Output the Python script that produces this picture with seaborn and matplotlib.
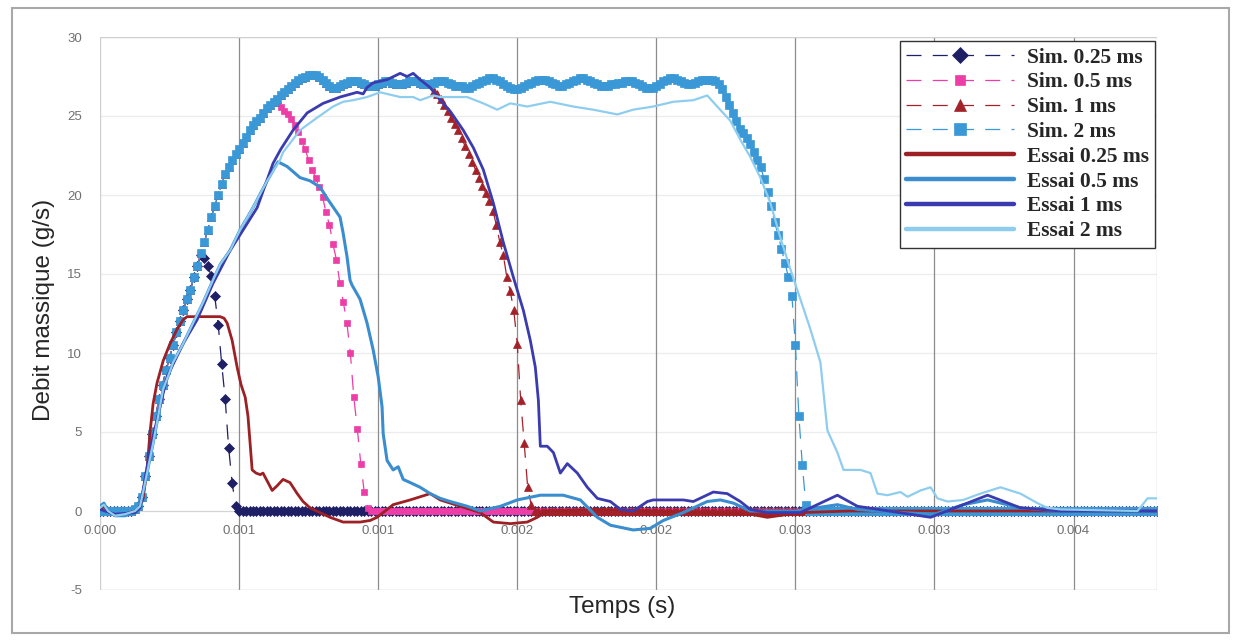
import numpy as np
import matplotlib
matplotlib.use("Agg")
import matplotlib.pyplot as plt
from matplotlib.patches import Rectangle
from matplotlib.font_manager import FontProperties
import seaborn as sns

# ---------------- data ----------------
# simulation: regular time step (ms), values in g/s
sim_step_ms = 0.0125
n_sim = 305
sim_rise = [0.0, 0.0, 0.0, 0.0, 0.0, 0.0, 0.0, 0.0, 0.0, 0.0,
            0.1, 0.3, 0.9, 2.2, 3.5, 4.9, 6.0, 7.1, 8.0, 8.9,
            9.7, 10.5, 11.3, 12.0, 12.7, 13.4, 14.0, 14.8, 15.5, 16.3,
            17.0, 17.8, 18.6, 19.3, 20.0, 20.7, 21.3, 21.8, 22.2, 22.6,
            22.9, 23.3, 23.7, 24.1, 24.4, 24.7, 24.9, 25.2, 25.5, 25.7,
            25.9, 26.1, 26.3, 26.5, 26.7, 26.9, 27.1, 27.3, 27.4, 27.5,
            27.6, 27.6, 27.6, 27.5, 27.3, 27.1, 26.9, 26.8, 26.8, 26.9,
            27.0, 27.1, 27.2, 27.2, 27.2, 27.1, 27.0, 26.9, 26.9, 26.9,
            27.0, 27.1, 27.2, 27.2, 27.1, 27.0, 27.0, 27.0, 27.1, 27.2,
            27.2, 27.2, 27.1, 27.0, 27.0, 27.0]
sim_2_tail = [27.1, 27.2, 27.2, 27.2,
              27.1, 27.0, 26.9, 26.9, 26.9, 26.8, 26.8, 26.9, 27.0, 27.1,
              27.2, 27.3, 27.4, 27.4, 27.3, 27.2, 27.0, 26.9, 26.8, 26.7,
              26.7, 26.8, 26.9, 27.0, 27.1, 27.2, 27.3, 27.3, 27.3, 27.2,
              27.1, 27.0, 26.9, 26.9, 27.0, 27.1, 27.2, 27.3, 27.4, 27.4,
              27.3, 27.2, 27.1, 27.0, 26.9, 26.9, 26.9, 27.0, 27.0, 27.1,
              27.1, 27.2, 27.2, 27.2, 27.1, 27.0, 26.9, 26.8, 26.8, 26.8,
              26.9, 27.0, 27.2, 27.3, 27.4, 27.4, 27.3, 27.2, 27.1, 27.0,
              27.0, 27.1, 27.2, 27.3, 27.3, 27.3, 27.3, 27.2, 27.0, 26.7,
              26.2, 25.7, 25.2, 24.7, 24.2, 23.9, 23.6, 23.2, 22.7, 22.2,
              21.8, 21.0, 20.2, 19.3, 18.3, 17.5, 16.6, 15.7, 14.8, 13.6,
              10.5, 6.0, 2.9, 0.4]
sim_025_drop = [16.2, 16.0, 15.5, 14.9, 13.6, 11.8, 9.3, 7.1, 4.0, 1.8, 0.3]
sim_05_drop = [25.8, 25.6, 25.3, 25.1, 24.8, 24.4, 24.0, 23.4, 22.9, 22.2,
               21.6, 21.1, 20.5, 19.9, 18.9, 18.1, 16.9, 15.9, 14.4, 13.2,
               11.9, 10.0, 7.2, 5.2, 3.0, 1.2, 0.2]
sim_1_drop = [26.6, 26.4, 26.1, 25.7, 25.3, 24.9, 24.5, 24.1, 23.6, 23.1,
              22.6, 22.1, 21.6, 21.1, 20.6, 20.1, 19.6, 19.0, 18.1, 17.0,
              16.2, 14.8, 13.9, 12.7, 10.6, 7.0, 4.3, 1.5, 0.4]

# experiments: time (ms), value (g/s)
essai_025_t = [0, 0.014, 0.029, 0.054, 0.09, 0.126, 0.137, 0.155, 0.169, 0.18,
               0.191, 0.205, 0.227, 0.252, 0.277, 0.299, 0.313, 0.36, 0.403, 0.432,
               0.446, 0.457, 0.475, 0.493, 0.507, 0.522, 0.532, 0.54, 0.547, 0.561,
               0.576, 0.586, 0.601, 0.619, 0.637, 0.658, 0.683, 0.709, 0.73, 0.755,
               0.791, 0.827, 0.874, 0.906, 0.935, 0.971, 0.996, 1.025, 1.054, 1.115,
               1.151, 1.187, 1.223, 1.259, 1.295, 1.367, 1.414, 1.475, 1.536, 1.572,
               1.608, 1.799, 1.978, 2.158, 2.338, 2.399, 2.518, 2.698, 3.0, 3.802]
essai_025_y = [0.1, 0.3, 0.0, -0.3, -0.2, 0.0, 0.1, 0.8, 2.6, 5.0,
               6.8, 8.1, 9.5, 10.6, 11.5, 12.1, 12.3, 12.3, 12.3, 12.3,
               12.2, 11.9, 10.8, 9.1, 8.0, 7.2, 6.0, 4.2, 2.6, 2.4,
               2.3, 2.4, 1.9, 1.3, 1.6, 2.0, 1.8, 1.1, 0.6, 0.2,
               -0.1, -0.4, -0.7, -0.7, -0.7, -0.6, -0.4, 0.0, 0.4, 0.7,
               0.9, 1.1, 0.7, 0.5, 0.3, -0.1, -0.7, -0.8, -0.7, -0.4,
               0.0, 0.1, 0.0, -0.1, -0.2, -0.4, -0.1, 0.0, 0.0, 0.0]

essai_05_t = [0, 0.014, 0.029, 0.054, 0.09, 0.126, 0.144, 0.162, 0.191, 0.227,
              0.263, 0.299, 0.335, 0.371, 0.406, 0.432, 0.468, 0.504, 0.55, 0.601,
              0.64, 0.673, 0.719, 0.755, 0.791, 0.82, 0.863, 0.874, 0.888, 0.899,
              0.906, 0.935, 0.96, 0.982, 1.0, 1.014, 1.018, 1.032, 1.054, 1.072,
              1.09, 1.115, 1.151, 1.187, 1.223, 1.259, 1.32, 1.367, 1.44, 1.5,
              1.583, 1.665, 1.727, 1.788, 1.835, 1.917, 1.978, 2.025, 2.097, 2.183,
              2.23, 2.277, 2.338, 2.5, 2.651, 2.723, 2.878, 3.0, 3.104, 3.191,
              3.309, 3.45, 3.802]
essai_05_y = [0.3, 0.5, 0.0, -0.3, -0.3, -0.1, 0.3, 1.8, 4.3, 7.7,
              9.4, 10.6, 11.9, 13.2, 14.6, 15.6, 16.5, 17.8, 19.2, 20.9,
              22.1, 21.8, 21.1, 20.9, 20.5, 19.7, 18.6, 17.6, 16.1, 14.6,
              14.3, 13.4, 11.9, 10.2, 8.5, 6.6, 4.9, 3.2, 2.6, 2.8,
              2.0, 1.8, 1.5, 1.1, 0.8, 0.6, 0.3, 0.0, 0.3, 0.7,
              1.0, 1.0, 0.7, -0.4, -0.9, -1.2, -1.1, -0.6, -0.1, 0.6,
              0.7, 0.5, 0.0, 0.0, 0.4, 0.1, -0.1, -0.2, 0.4, 0.7,
              0.2, 0.0, 0.0]

essai_1_t = [0, 0.054, 0.126, 0.144, 0.18, 0.216, 0.241, 0.299, 0.349, 0.406,
             0.468, 0.515, 0.565, 0.622, 0.65, 0.694, 0.745, 0.802, 0.863, 0.924,
             0.946, 0.96, 0.982, 1.032, 1.079, 1.104, 1.126, 1.151, 1.187, 1.223,
             1.259, 1.306, 1.342, 1.378, 1.414, 1.45, 1.486, 1.522, 1.547, 1.565,
             1.576, 1.583, 1.608, 1.63, 1.655, 1.68, 1.716, 1.752, 1.788, 1.835,
             1.871, 1.917, 1.968, 1.989, 2.097, 2.133, 2.205, 2.255, 2.302, 2.338,
             2.399, 2.518, 2.651, 2.723, 2.986, 3.191, 3.309, 3.453, 3.802]
essai_1_y = [0.1, -0.2, -0.1, 0.2, 3.9, 6.6, 8.5, 10.6, 12.1, 14.4,
             16.5, 17.8, 19.2, 22.0, 22.9, 24.1, 25.2, 25.8, 26.2, 26.5,
             26.4, 26.8, 27.1, 27.3, 27.7, 27.5, 27.7, 27.3, 26.8, 26.0,
             25.3, 24.1, 23.0, 21.6, 19.5, 17.0, 14.8, 12.7, 10.8, 9.1,
             7.0, 4.1, 4.1, 3.7, 2.4, 3.0, 2.4, 1.5, 0.8, 0.6,
             0.1, 0.0, 0.6, 0.7, 0.7, 0.6, 1.2, 1.1, 0.6, 0.1,
             -0.1, -0.1, 1.0, 0.3, -0.4, 1.0, 0.2, 0.0, 0.0]

essai_2_t = [0, 0.014, 0.029, 0.054, 0.09, 0.126, 0.144, 0.162, 0.191, 0.227,
             0.263, 0.299, 0.335, 0.371, 0.406, 0.432, 0.468, 0.504, 0.55, 0.601,
             0.647, 0.658, 0.719, 0.781, 0.838, 0.874, 0.91, 0.96, 1.007, 1.079,
             1.126, 1.151, 1.198, 1.223, 1.32, 1.378, 1.428, 1.475, 1.536, 1.619,
             1.701, 1.773, 1.86, 1.917, 1.989, 2.061, 2.133, 2.183, 2.219, 2.266,
             2.302, 2.338, 2.374, 2.41, 2.446, 2.482, 2.518, 2.554, 2.59, 2.615,
             2.651, 2.673, 2.734, 2.77, 2.795, 2.831, 2.878, 2.903, 2.95, 2.986,
             3.011, 3.047, 3.104, 3.165, 3.237, 3.309, 3.37, 3.406, 3.453, 3.73,
             3.766, 3.802]
essai_2_y = [0.2, 0.4, 0.0, -0.3, -0.2, 0.0, 0.3, 1.8, 4.3, 7.7,
             9.4, 10.6, 11.9, 13.2, 14.6, 15.6, 16.5, 17.8, 19.2, 20.9,
             22.2, 22.7, 24.1, 24.9, 25.6, 25.9, 26.0, 26.2, 26.5, 26.2,
             26.2, 26.0, 26.3, 26.2, 26.2, 25.8, 25.4, 25.8, 25.6, 25.9,
             25.6, 25.4, 25.1, 25.4, 25.6, 25.9, 26.0, 26.3, 25.6, 24.7,
             23.5, 22.4, 21.1, 19.5, 17.3, 15.3, 13.4, 11.5, 9.4, 5.1,
             3.7, 2.6, 2.6, 2.4, 1.1, 1.0, 1.2, 0.9, 1.3, 1.5,
             0.8, 0.6, 0.7, 1.1, 1.5, 1.1, 0.5, 0.2, 0.1, 0.0,
             0.8, 0.8]

x_ticks = [0.0, 0.0005, 0.001, 0.0015, 0.002, 0.0025, 0.003, 0.0035]
x_tick_labels = ["0.000", "0.001", "0.001", "0.002", "0.002", "0.003", "0.003", "0.004"]
y_ticks = [-5, 0, 5, 10, 15, 20, 25, 30]

labels_sim = ["Sim. 0.25 ms", "Sim. 0.5 ms", "Sim. 1 ms", "Sim. 2 ms"]
labels_essai = ["Essai 0.25 ms", "Essai 0.5 ms", "Essai 1 ms", "Essai 2 ms"]


def pad(vals):
    return vals + [0.0] * (n_sim - len(vals))


sim_t = np.arange(n_sim) * sim_step_ms / 1000.0
sim_series = [
    pad(sim_rise[:29] + sim_025_drop),
    pad(sim_rise[:51] + sim_05_drop),
    pad(sim_rise[:96] + sim_1_drop),
    pad(sim_rise + sim_2_tail),
]
essai_series = [
    (essai_025_t, essai_025_y),
    (essai_05_t, essai_05_y),
    (essai_1_t, essai_1_y),
    (essai_2_t, essai_2_y),
]

# ---------------- style ----------------
sns.set_style("white")
plt.rcParams["font.family"] = ["Liberation Sans", "DejaVu Sans"]

sim_colors = ["#1f1f66", "#ec3ea6", "#a3222a", "#3b98d6"]
sim_markers = ["D", "s", "^", "s"]
sim_msize = [4.6, 4.5, 5.2, 5.5]
essai_colors = ["#9c2024", "#3a8dcf", "#3b3bb0", "#8fcdef"]
essai_lw = [2.0, 2.2, 2.0, 1.6]

fig = plt.figure(figsize=(12.37, 6.4), dpi=100)
fig.patch.set_facecolor("white")
ax = fig.add_axes([100 / 1237, 50 / 640, 1057 / 1237, 553 / 640])
ax.set_facecolor("white")

for vals, c, m, ms, lab in zip(sim_series, sim_colors, sim_markers, sim_msize, labels_sim):
    sns.lineplot(x=sim_t, y=np.array(vals), ax=ax, color=c, marker=m, markersize=ms,
                 markeredgecolor=c, markeredgewidth=0.5, linewidth=0.9,
                 linestyle=(0, (12, 9)), label=lab, sort=False, estimator=None)

for (t, y), c, lw, lab in zip(essai_series, essai_colors, essai_lw, labels_essai):
    sns.lineplot(x=np.array(t) / 1000.0, y=np.array(y), ax=ax, color=c, linewidth=lw,
                 label=lab, sort=False, estimator=None)

ax.set_xlim(0, 0.0038)
ax.set_ylim(-5, 30)
ax.set_xticks(x_ticks)
ax.set_xticklabels(x_tick_labels)
ax.set_yticks(y_ticks)
ax.set_yticklabels([str(v) for v in y_ticks])
ax.tick_params(axis="both", length=0, labelsize=9.5, labelcolor="#707070")
ax.tick_params(axis="x", pad=10)
ax.tick_params(axis="y", pad=13)

ax.grid(False)
for xv in x_ticks[1:]:
    ax.axvline(xv, color="#8c8c8c", linewidth=0.9, zorder=0.5)
for yv in y_ticks:
    ax.axhline(yv, color="#ececec", linewidth=0.9, zorder=0.4)

for s in ["top", "right", "left"]:
    ax.spines[s].set_visible(False)
ax.spines["bottom"].set_position(("data", 0))
ax.spines["bottom"].set_color("#d4d4d4")
ax.spines["bottom"].set_linewidth(0.8)
ax.spines["bottom"].set_zorder(0.6)
ax.add_patch(Rectangle((0, 0), 1, 1, transform=ax.transAxes, fill=False,
                       edgecolor="#cfcfcf", linewidth=1.0, zorder=0.7))

ax.set_xlabel("Temps (s)", fontsize=17.5, color="#262626")
ax.set_ylabel("Debit massique (g/s)", fontsize=17.5, color="#262626")
ax.xaxis.set_label_coords(0.494, -0.010)
ax.yaxis.set_label_coords(-0.043, 0.506)

handles, labels = ax.get_legend_handles_labels()
leg = ax.legend(handles, labels, loc="upper right",
                bbox_to_anchor=(1155 / 1237, 1 - 41 / 640), bbox_transform=fig.transFigure,
                prop=FontProperties(family="Liberation Serif", weight="bold", size=15.5),
                frameon=True, fancybox=False, edgecolor="#333333", framealpha=1,
                borderpad=0.3, labelspacing=0.22, handlelength=5.0, handletextpad=0.6,
                borderaxespad=0, markerscale=1.7)
leg.get_frame().set_linewidth(1.0)
for line, lab in zip(leg.get_lines(), labels):
    if lab.startswith("Essai"):
        line.set_linewidth(3.2)

fig.add_artist(Rectangle((12 / 1237, 7 / 640), 1217 / 1237, 625 / 640,
                         transform=fig.transFigure, fill=False,
                         edgecolor="#a8a8a8", linewidth=1.5))

fig.savefig("out.png", dpi=100, facecolor="white")
